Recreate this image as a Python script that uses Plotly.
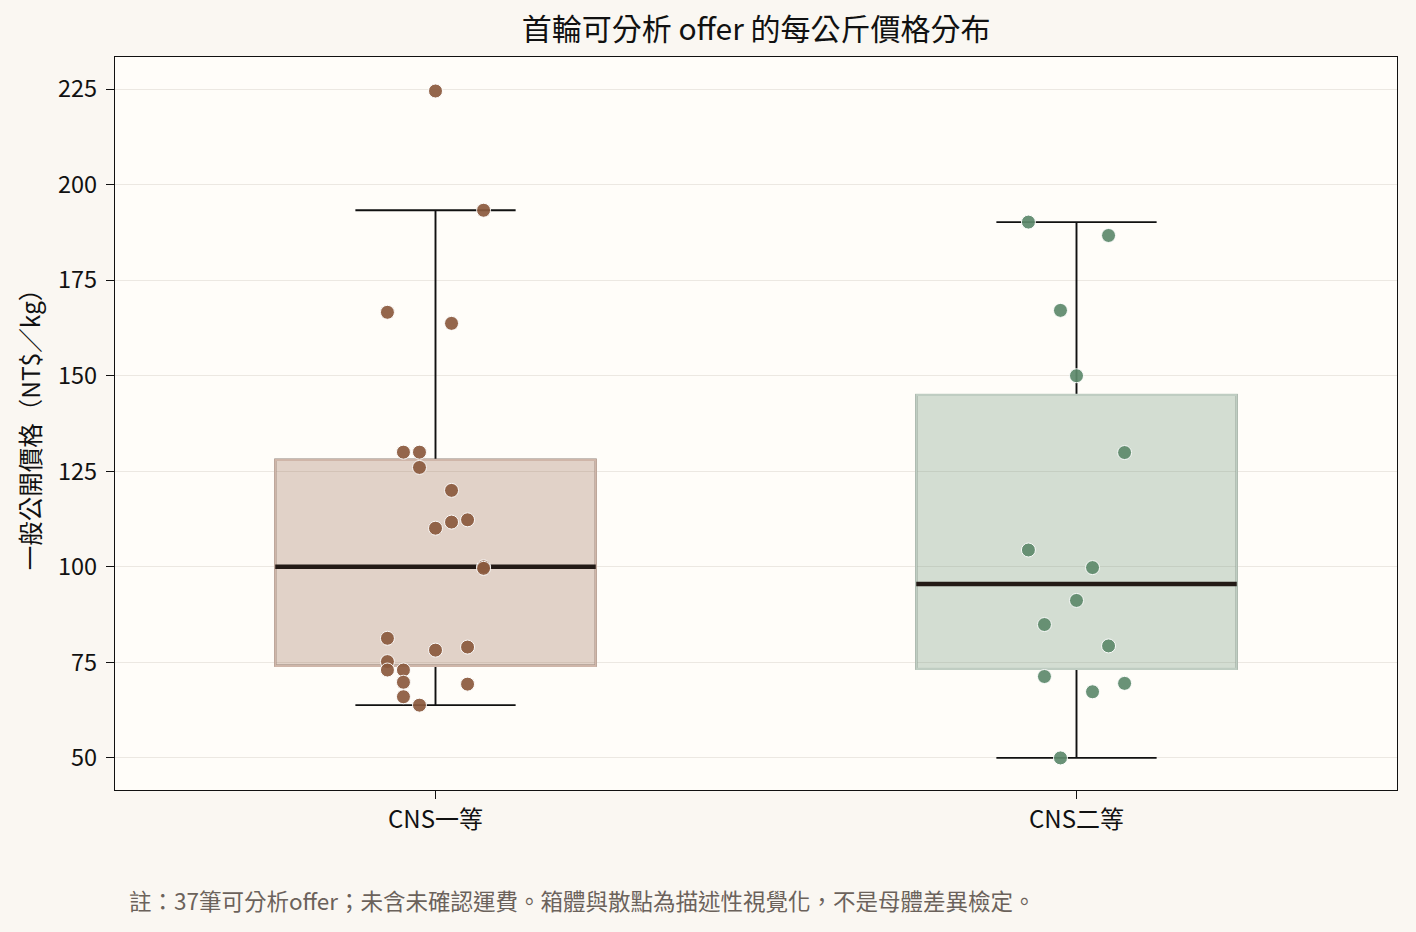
import numpy as np
import plotly.graph_objects as go

# 每公斤價格（NT$/kg）
categories = ["CNS一等", "CNS二等"]
grade1_price = [224.5, 193.3, 166.6, 163.7, 130.0, 130.0, 126.0, 120.0, 111.7, 112.3, 110.1,
                100.0, 99.6, 81.3, 78.2, 79.0, 75.2, 73.0, 73.0, 69.8, 69.3, 66.0, 63.8]
grade1_jitter = [0, 0.075, -0.075, 0.025, -0.05, -0.025, -0.025, 0.025, 0.025, 0.05, 0,
                 0.075, 0.075, -0.075, 0, 0.05, -0.075, -0.075, -0.05, -0.05, 0.05, -0.05, -0.025]
grade2_price = [190.2, 186.7, 167.1, 150.0, 129.9, 104.4, 99.8, 91.2, 84.9, 79.3, 71.3, 69.5, 67.3, 50.0]
grade2_jitter = [-0.075, 0.05, -0.025, 0, 0.075, -0.075, 0.025, 0, -0.05, 0.05, -0.05, 0.075, 0.025, -0.025]
y_ticks = [50, 75, 100, 125, 150, 175, 200, 225]

FONT = "Noto Sans CJK TC"
BOX_W = 0.5
groups = [
    (grade1_price, grade1_jitter, "#8b5a3e", "rgba(139,90,62,0.26)", "#cfb6a9"),
    (grade2_price, grade2_jitter, "#5e8a6c", "rgba(94,138,108,0.27)", "#bfcdc2"),
]


def box_stats(vals):
    v = np.sort(np.array(vals))
    q1, med, q3 = np.percentile(v, [25, 50, 75])
    iqr = q3 - q1
    lo = v[v >= q1 - 1.5 * iqr].min()
    hi = v[v <= q3 + 1.5 * iqr].max()
    return q1, med, q3, lo, hi


fig = go.Figure()

# 箱體：先畫鬚線（黑），再疊上淡色箱體
for i, (vals, jit, pc, fill, edge) in enumerate(groups):
    q1, med, q3, lo, hi = box_stats(vals)
    fig.add_trace(go.Box(
        x=[i], q1=[q1], median=[med], q3=[q3], lowerfence=[lo], upperfence=[hi],
        width=BOX_W, whiskerwidth=0.5, boxpoints=False,
        line=dict(color="#111111", width=1.9), fillcolor="rgba(0,0,0,0)",
        hoverinfo="skip", showlegend=False))
    fig.add_trace(go.Box(
        x=[i], q1=[q1], median=[med], q3=[q3], lowerfence=[q1], upperfence=[q3],
        width=BOX_W, whiskerwidth=0, boxpoints=False,
        line=dict(color=edge, width=2.2), fillcolor=fill,
        hoverinfo="skip", showlegend=False))

for i, (vals, jit, pc, fill, edge) in enumerate(groups):
    q1, med, q3, lo, hi = box_stats(vals)
    fig.add_trace(go.Scatter(
        x=[i - BOX_W / 2, i + BOX_W / 2], y=[med, med], mode="lines",
        line=dict(color="#231a16", width=4.5), hoverinfo="skip", showlegend=False))

for i, (vals, jit, pc, fill, edge) in enumerate(groups):
    fig.add_trace(go.Scatter(
        x=[i + j for j in jit], y=vals, mode="markers",
        marker=dict(size=14, color=pc, opacity=0.92, line=dict(color="white", width=1)),
        name=categories[i], showlegend=False))

fig.add_annotation(
    text="註：37筆可分析offer；未含未確認運費。箱體與散點為描述性視覺化，不是母體差異檢定。",
    xref="paper", yref="paper", x=0.009, y=-0.150, xanchor="left", yanchor="middle",
    showarrow=False, font=dict(family=FONT, size=22.5, color="#6b625b"))

fig.update_layout(
    width=1416, height=932,
    margin=dict(l=115, r=19, t=57, b=142),
    paper_bgcolor="#faf7f2", plot_bgcolor="#fffdf9",
    boxmode="overlay",
    font=dict(family=FONT, size=24, color="#111111"),
    title=dict(text="首輪可分析 offer 的每公斤價格分布", x=0.534, xanchor="center",
               y=0.968, yanchor="middle", font=dict(family=FONT, size=30, color="#111111")),
    xaxis=dict(range=[-0.5, 1.5], tickvals=[0, 1], ticktext=categories,
               showgrid=False, zeroline=False, showline=True, mirror=True,
               linecolor="#111111", linewidth=1.4, ticks="outside", ticklen=8,
               tickcolor="#111111", tickfont=dict(size=24)),
    yaxis=dict(range=[41.6, 233.4], tickvals=y_ticks,
               showgrid=True, gridcolor="#ece8e2", gridwidth=1, zeroline=False,
               showline=True, mirror=True, linecolor="#111111", linewidth=1.4,
               ticks="outside", ticklen=8, tickcolor="#111111", tickfont=dict(size=23.5),
               ticklabelstandoff=4,
               title=dict(text="一般公開價格（NT$／kg）", font=dict(size=24.5), standoff=10)),
)

fig.write_html("out.html", config={"displayModeBar": False},
               post_script="document.body.style.margin='0';"
               "document.body.style.background='#faf7f2';")
